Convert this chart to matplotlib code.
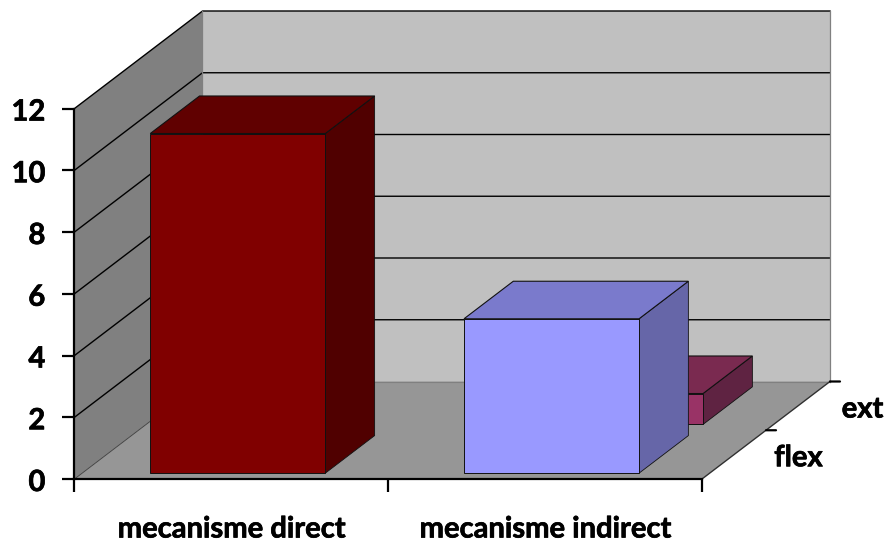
import matplotlib
matplotlib.use("Agg")
import matplotlib.pyplot as plt
import matplotlib.patheffects as pe
from matplotlib.patches import Polygon
from matplotlib.transforms import ScaledTranslation

plt.rcParams['font.family'] = ['Lato', 'DejaVu Sans']

categories = ["mecanisme direct", "mecanisme indirect"]
series_names = ["flex", "ext"]
flex_values = [11, 5]
ext_values = [0, 1]
y_ticks = [0, 2, 4, 6, 8, 10, 12]

W, H = 887, 542
fig = plt.figure(figsize=(W / 100, H / 100), dpi=100, facecolor="white")
L, R, T, B = 74.5, 702, 108.5, 479
ax = fig.add_axes([L / W, 1 - B / H, (R - L) / W, (B - T) / H])
ax.set_xlim(0, 2)
ax.set_ylim(0, 12)
ax.patch.set_visible(False)

DX = 128.0 / ((R - L) / 2)   # full depth shift in category units
DY = 97.5 / ((B - T) / 12)   # full depth shift in value units
FS = 21
BOLDER = [pe.withStroke(linewidth=0.5, foreground="black")]


def pr(x, y, d):
    return (x + d * DX, y + d * DY)


def face(pts, fc, ec="none", lw=0.0, z=1):
    ax.add_patch(Polygon([pr(*p) for p in pts], closed=True, fc=fc, ec=ec, lw=lw,
                         zorder=z, clip_on=False, joinstyle="miter"))


# walls and floor
face([(0, 0, 1), (2, 0, 1), (2, 12, 1), (0, 12, 1)], "#C0C0C0", z=1)
face([(0, 0, 0), (0, 0, 1), (0, 12, 1), (0, 12, 0)], "#808080", z=1.1)
face([(0, 0, 0), (2, 0, 0), (2, 0, 1), (0, 0, 1)], "#969696", z=1.2)

# gridlines
for v in y_ticks:
    xs, ys = zip(pr(0, v, 0), pr(0, v, 1), pr(2, v, 1))
    if v == 0:
        ax.plot(xs[:2], ys[:2], color="#3a3a3a", lw=0.6, zorder=1.5, clip_on=False)
        ax.plot(xs[1:], ys[1:], color="#808080", lw=0.8, zorder=1.5, clip_on=False)
    else:
        ax.plot(xs, ys, color="black", lw=1.0, zorder=1.5, clip_on=False)
# wall edges
for seg in ([(0, 0, 1), (0, 12, 1)], [(2, 0, 1), (2, 12, 1)]):
    xs, ys = zip(*[pr(*p) for p in seg])
    ax.plot(xs, ys, color="#808080", lw=0.9, zorder=1.6, clip_on=False)
xs, ys = zip(pr(2, 0, 0), pr(2, 0, 1))
ax.plot(xs, ys, color="#303030", lw=1.0, zorder=1.6, clip_on=False)

# bars
OFFSET = 0.217
WIDTH = 0.558
DEPTH = 0.385
D_START = [0.06, 0.56]
colors = [
    [("#800000", "#600000", "#500000"), ("#9999FF", "#7A7ACC", "#6666A8")],
    [("#993366", "#000000", "#000000"), ("#993366", "#7A2A50", "#5F2342")],
]
z = 2.0
for s_idx in [1, 0]:
    vals = [flex_values, ext_values][s_idx]
    d0 = D_START[s_idx]
    d1 = d0 + DEPTH
    for c_idx, v in enumerate(vals):
        if v == 0:
            continue
        x0 = c_idx + OFFSET
        x1 = x0 + WIDTH
        front, top, side = colors[s_idx][c_idx]
        ec = "#111111"
        face([(x1, 0, d0), (x1, 0, d1), (x1, v, d1), (x1, v, d0)], side, ec, 0.6, z)
        face([(x0, v, d0), (x1, v, d0), (x1, v, d1), (x0, v, d1)], top, ec, 0.8, z + 0.1)
        face([(x0, 0, d0), (x1, 0, d0), (x1, v, d0), (x0, v, d0)], front, ec, 0.7, z + 0.2)
        z += 1

# axes
for sp in ("top", "right"):
    ax.spines[sp].set_visible(False)
for sp in ("left", "bottom"):
    ax.spines[sp].set_linewidth(1.6)
    ax.spines[sp].set_zorder(20)
ax.set_yticks(y_ticks)
ax.tick_params(axis="y", length=9, width=1.6, labelsize=FS, pad=12)
down = ScaledTranslation(0, -1.5 / fig.dpi, fig.dpi_scale_trans)
for lab in ax.get_yticklabels():
    lab.set_fontweight("bold")
    lab.set_path_effects(BOLDER)
    lab.set_transform(lab.get_transform() + down)
ax.set_xticks([0, 1, 2])
ax.set_xticks([0.5, 1.5], minor=True)
ax.set_xticklabels([])
ax.set_xticklabels(categories, minor=True, fontweight="bold", fontsize=FS,
                   path_effects=BOLDER)
left = ScaledTranslation(-2 / fig.dpi, 0, fig.dpi_scale_trans)
for lab in ax.get_xticklabels(minor=True):
    lab.set_transform(lab.get_transform() + left)
ax.tick_params(axis="x", which="major", length=9, width=1.6)
ax.tick_params(axis="x", which="minor", length=0, pad=27)

# depth axis ticks and labels
for d, name in zip([0.5, 1.0], series_names):
    px, py = pr(2, 0, d)
    ax.annotate("", xy=(px, py), xytext=(10, 0), textcoords="offset pixels",
                arrowprops=dict(arrowstyle="-", color="black", lw=1.6,
                                shrinkA=0, shrinkB=0), zorder=20, annotation_clip=False)
    ax.annotate(name, xy=(px, py), xytext=(32.5, -28), textcoords="offset pixels",
                ha="center", va="center", fontsize=FS, fontweight="bold",
                path_effects=BOLDER, annotation_clip=False)

fig.savefig("out.png", dpi=100, facecolor="white")
